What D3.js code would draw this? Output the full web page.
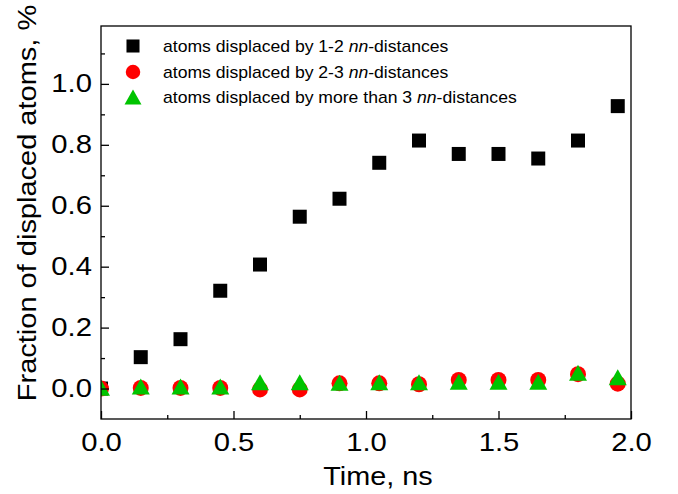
<!DOCTYPE html>
<html>
<head>
<meta charset="utf-8">
<script src="https://cdn.jsdelivr.net/npm/d3@7"></script>
<style>
  html, body { margin: 0; padding: 0; background: #fff; }
  svg { display: block; }
  text { font-family: "Liberation Sans", Arial, sans-serif; fill: #000; }
</style>
</head>
<body>
<div id="chart"></div>
<script>
// Simulation time, ns
const time = [0, 0.15, 0.30, 0.45, 0.60, 0.75, 0.90, 1.05, 1.20, 1.35, 1.50, 1.65, 1.80, 1.95];
// Fraction of displaced atoms, %
const nn12 = [0.000, 0.103, 0.162, 0.321, 0.407, 0.564, 0.623, 0.741, 0.814, 0.770, 0.770, 0.755, 0.814, 0.927];
const nn23 = [0.000, 0.002, 0.002, 0.002, -0.003, -0.003, 0.017, 0.017, 0.014, 0.028, 0.028, 0.028, 0.047, 0.016];
const nn3  = [0.003, 0.007, 0.007, 0.007, 0.021, 0.021, 0.019, 0.021, 0.021, 0.022, 0.022, 0.022, 0.052, 0.037];

const xMajor = [0, 0.5, 1.0, 1.5, 2.0];
const xMinor = [0.25, 0.75, 1.25, 1.75];
const yMajor = [0, 0.2, 0.4, 0.6, 0.8, 1.0];
const yMinor = [0.1, 0.3, 0.5, 0.7, 0.9, 1.1];

const seriesNames = [
  ["atoms displaced by 1-2 ", "nn", "-distances"],
  ["atoms displaced by 2-3 ", "nn", "-distances"],
  ["atoms displaced by more than 3 ", "nn", "-distances"]
];
const xTitle = "Time, ns";
const yTitle = "Fraction of displaced atoms, %";

const W = 678, H = 494;
const x = d3.scaleLinear().domain([0, 2]).range([101, 631]);
const y = d3.scaleLinear().domain([-0.1, 1.19]).range([419, 26]);

const svg = d3.select("#chart").append("svg")
  .attr("width", W).attr("height", H);

// Up-triangle centred on its bounding box; size = width in px
const triangleBox = {
  draw(ctx, size) {
    const w = size, h = size * 0.89;
    ctx.moveTo(0, -h / 2);
    ctx.lineTo(w / 2, h / 2);
    ctx.lineTo(-w / 2, h / 2);
    ctx.closePath();
  }
};

const styles = [
  { color: "#000000", sym: d3.symbol().type(d3.symbolSquare).size(196), leg: d3.symbol().type(d3.symbolSquare).size(170) },
  { color: "#ff0000", sym: d3.symbol().type(d3.symbolCircle).size(201), leg: d3.symbol().type(d3.symbolCircle).size(165) },
  { color: "#00c400", sym: d3.symbol().type(triangleBox).size(18), leg: d3.symbol().type(triangleBox).size(17) }
];

svg.append("clipPath").attr("id", "plotClip")
  .append("rect")
  .attr("x", x(0)).attr("y", y(1.19))
  .attr("width", x(2) - x(0)).attr("height", y(-0.1) - y(1.19));

// Data markers
const series = [nn12, nn23, nn3];
const plot = svg.append("g").attr("clip-path", "url(#plotClip)");
series.forEach((vals, i) => {
  plot.append("g").selectAll("path")
    .data(time.map((t, k) => [t, vals[k]]))
    .join("path")
    .attr("d", styles[i].sym)
    .attr("transform", d => `translate(${x(d[0])},${y(d[1])})`)
    .attr("fill", styles[i].color);
});

// Axes with inward ticks
const fmt = d3.format(".1f");
const sx = 1.17;

const xAxis = svg.append("g").attr("transform", `translate(0,${y(-0.1)})`)
  .call(d3.axisBottom(x).tickValues(xMajor).tickFormat(fmt).tickSize(-8).tickPadding(14));
svg.append("g").attr("transform", `translate(0,${y(-0.1)})`)
  .call(d3.axisBottom(x).tickValues(xMinor).tickFormat("").tickSize(-4));

const yAxis = svg.append("g").attr("transform", `translate(${x(0)},0)`)
  .call(d3.axisLeft(y).tickValues(yMajor).tickFormat(fmt).tickSize(-8).tickPadding(9));
svg.append("g").attr("transform", `translate(${x(0)},0)`)
  .call(d3.axisLeft(y).tickValues(yMinor).tickFormat("").tickSize(-4));

svg.selectAll(".domain").remove();
svg.selectAll(".tick line").attr("stroke", "#000").attr("stroke-width", 1.3);

xAxis.selectAll("text")
  .attr("font-size", 25).attr("font-family", "Liberation Sans, Arial, sans-serif")
  .attr("transform", `scale(${sx},1)`);
yAxis.selectAll("text")
  .each(function () {
    const t = d3.select(this);
    const px = +t.attr("x");
    t.attr("x", 0).attr("transform", `translate(${px},0) scale(${sx},1)`);
  })
  .attr("font-size", 25).attr("font-family", "Liberation Sans, Arial, sans-serif");

// Frame
svg.append("rect")
  .attr("x", x(0)).attr("y", y(1.19))
  .attr("width", x(2) - x(0)).attr("height", y(-0.1) - y(1.19))
  .attr("fill", "none").attr("stroke", "#000").attr("stroke-width", 1.3);

// Axis titles
svg.append("text")
  .attr("transform", `translate(378,485) scale(1.13,1)`)
  .attr("text-anchor", "middle").attr("font-size", 25.5)
  .text(xTitle);

svg.append("text")
  .attr("transform", `translate(36,203) rotate(-90) scale(1.16,1)`)
  .attr("text-anchor", "middle").attr("font-size", 25)
  .text(yTitle);

// Legend
const legY = [46, 72, 97];
seriesNames.forEach((parts, i) => {
  svg.append("path")
    .attr("d", styles[i].leg)
    .attr("transform", `translate(133,${legY[i]})`)
    .attr("fill", styles[i].color);
  const t = svg.append("text")
    .attr("transform", `translate(163,${legY[i]}) scale(1.1,1)`)
    .attr("dy", "0.36em").attr("font-size", 16);
  t.append("tspan").text(parts[0]);
  t.append("tspan").attr("font-style", "italic").text(parts[1]);
  t.append("tspan").text(parts[2]);
});
</script>
</body>
</html>
